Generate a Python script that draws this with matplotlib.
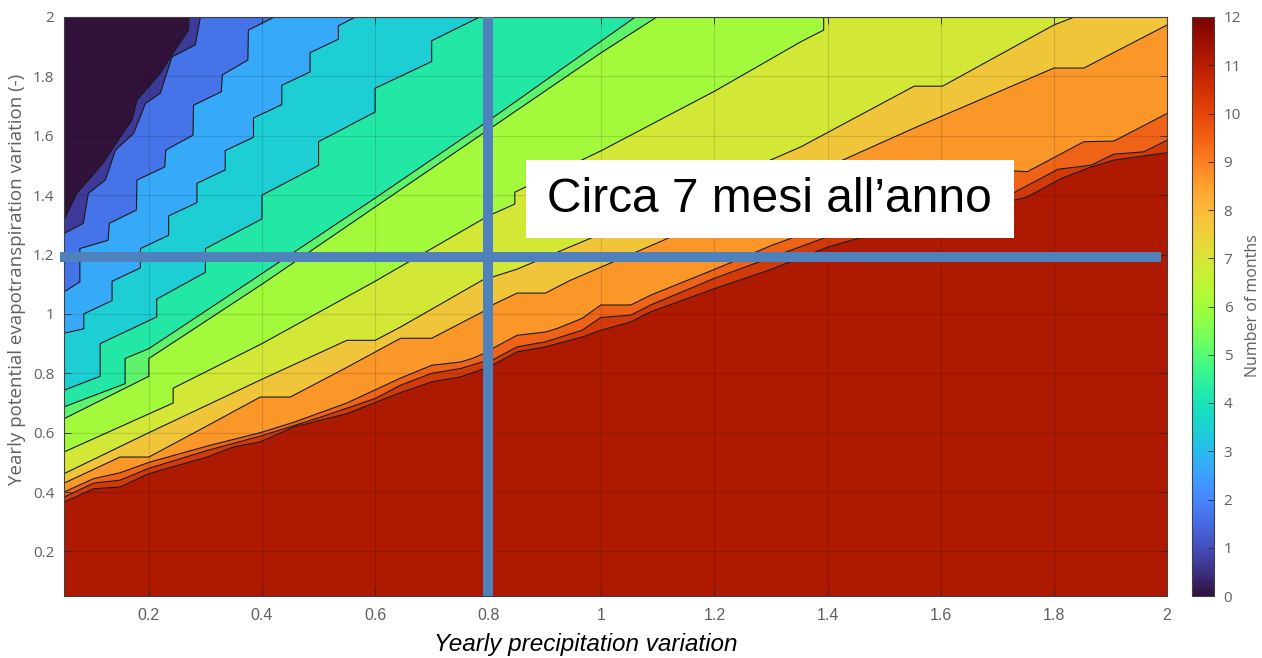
import matplotlib
matplotlib.use("Agg")
import matplotlib.pyplot as plt
from matplotlib import colors as mcolors
from matplotlib.cm import ScalarMappable
from matplotlib.patches import Rectangle

# contour lines, from the bottom (12 months) up to the top-left (0 months)
b1_x = [0.05, 0.102, 0.149, 0.2, 0.303, 0.35, 0.397, 0.456, 0.55, 0.645, 0.70, 0.751, 0.789, 0.807,
        0.851, 0.901, 0.966, 0.999, 1.052, 1.087, 1.2, 1.3, 1.4, 1.5, 1.6, 1.729, 1.753, 1.813, 1.866,
        1.906, 2.0]
b1_y = [0.366, 0.411, 0.417, 0.462, 0.518, 0.552, 0.569, 0.619, 0.664, 0.735, 0.771, 0.788, 0.813, 0.827,
        0.872, 0.889, 0.922, 0.945, 0.973, 1.007, 1.085, 1.15, 1.225, 1.28, 1.335, 1.383, 1.394, 1.456, 1.495,
        1.518, 1.543]
b2_x = [0.05, 0.102, 0.149, 0.2, 0.303, 0.4, 0.5, 0.6, 0.645, 0.70, 0.751, 0.789, 0.807, 0.851, 0.901,
        0.966, 0.999, 1.052, 1.087, 1.2, 1.3, 1.4, 1.5, 1.6, 1.729, 1.807, 1.866, 1.906, 1.959, 2.0]
b2_y = [0.383, 0.43, 0.44, 0.48, 0.54, 0.59, 0.65, 0.715, 0.76, 0.80, 0.816, 0.838, 0.844, 0.889, 0.906,
        0.945, 0.988, 0.996, 1.03, 1.12, 1.19, 1.26, 1.31, 1.36, 1.408, 1.487, 1.501, 1.538, 1.546, 1.585]
b3_x = [0.05, 0.102, 0.149, 0.2, 0.303, 0.397, 0.456, 0.55, 0.645, 0.70, 0.751, 0.772, 0.789, 0.807,
        0.851, 0.901, 0.922, 0.966, 0.999, 1.052, 1.087, 1.2, 1.3, 1.4, 1.5, 1.6, 1.706, 1.753, 1.853,
        1.906, 2.0]
b3_y = [0.40, 0.445, 0.465, 0.50, 0.555, 0.60, 0.635, 0.70, 0.784, 0.827, 0.838, 0.85, 0.864, 0.883,
        0.928, 0.939, 0.951, 0.985, 1.03, 1.03, 1.063, 1.15, 1.23, 1.30, 1.37, 1.43, 1.484, 1.479, 1.58,
        1.582, 1.675]
b4_x = [0.05, 0.149, 0.2, 0.3, 0.397, 0.45, 0.55, 0.645, 0.70, 0.79, 0.807, 0.851, 0.901, 0.946, 1.1,
        1.3, 1.553, 1.80, 1.853, 2.0]
b4_y = [0.43, 0.518, 0.518, 0.62, 0.72, 0.72, 0.82, 0.918, 0.918, 1.007, 1.03, 1.07, 1.07, 1.114, 1.24,
        1.41, 1.626, 1.828, 1.828, 1.973]
b5_x = [0.05, 0.2, 0.4, 0.55, 0.6, 0.645, 0.79, 0.85, 1.0, 1.353, 1.553, 1.603, 1.80, 1.836]
b5_y = [0.462, 0.60, 0.78, 0.911, 0.911, 0.956, 1.114, 1.15, 1.27, 1.563, 1.767, 1.767, 1.973, 2.0]
b6_x = [0.05, 0.243, 0.243, 0.4, 0.6, 0.8, 0.847, 0.847, 1.0, 1.2, 1.353, 1.393, 1.393]
b6_y = [0.535, 0.70, 0.75, 0.90, 1.11, 1.33, 1.37, 1.41, 1.55, 1.75, 1.917, 1.956, 2.0]
b7_x = [0.05, 0.2, 0.2, 0.4, 0.6, 0.8, 1.0, 1.098]
b7_y = [0.647, 0.79, 0.85, 1.10, 1.36, 1.62, 1.88, 2.0]
b8_x = [0.05, 0.158, 0.158, 0.2, 0.356, 0.6, 0.8, 1.06]
b8_y = [0.687, 0.765, 0.85, 0.883, 1.08, 1.39, 1.65, 2.0]
b9_x = [0.05, 0.114, 0.114, 0.214, 0.214, 0.3, 0.3, 0.4, 0.4, 0.5, 0.5, 0.6, 0.6, 0.7, 0.7, 0.785]
b9_y = [0.743, 0.79, 0.90, 0.99, 1.05, 1.14, 1.22, 1.32, 1.40, 1.50, 1.58, 1.68, 1.76, 1.85, 1.92, 2.0]
b10_x = [0.05, 0.085, 0.085, 0.135, 0.135, 0.185, 0.185, 0.235, 0.235, 0.285, 0.285, 0.335, 0.335,
         0.385, 0.385, 0.435, 0.435, 0.485, 0.485, 0.535, 0.535, 0.565]
b10_y = [0.935, 0.95, 1.0, 1.045, 1.11, 1.155, 1.22, 1.265, 1.33, 1.375, 1.44, 1.485, 1.55, 1.595, 1.66,
         1.705, 1.77, 1.815, 1.88, 1.925, 1.97, 2.0]
b11_x = [0.05, 0.078, 0.078, 0.128, 0.13, 0.178, 0.179, 0.228, 0.23, 0.278, 0.279, 0.328, 0.33, 0.375,
         0.376, 0.422]
b11_y = [1.074, 1.108, 1.22, 1.248, 1.305, 1.35, 1.451, 1.495, 1.552, 1.602, 1.703, 1.748, 1.805, 1.855,
         1.956, 2.0]
b12_x = [0.05, 0.084, 0.093, 0.123, 0.141, 0.173, 0.194, 0.22, 0.241, 0.282, 0.291]
b12_y = [1.271, 1.305, 1.406, 1.451, 1.552, 1.608, 1.709, 1.743, 1.866, 1.906, 2.0]
b13_x = [0.05, 0.073, 0.119, 0.14, 0.17, 0.179, 0.22, 0.243, 0.27, 0.271]
b13_y = [1.316, 1.407, 1.508, 1.569, 1.653, 1.72, 1.81, 1.879, 1.956, 2.0]

# fill colour of each band, bottom band first
band_colors = ["#AE1901", "#D23A0A", "#EF6318", "#FB9629", "#F1C53A", "#D3E736", "#A3F93B",
               "#5EF36A", "#23E8A5", "#1DCFD4", "#36AAF9", "#4573E8", "#3E3A9A", "#30123B"]

x_ticks = [0.2, 0.4, 0.6, 0.8, 1.0, 1.2, 1.4, 1.6, 1.8, 2.0]
x_labels = ["0.2", "0.4", "0.6", "0.8", "1", "1.2", "1.4", "1.6", "1.8", "2"]
y_ticks = [0.2, 0.4, 0.6, 0.8, 1.0, 1.2, 1.4, 1.6, 1.8, 2.0]
y_labels = ["0.2", "0.4", "0.6", "0.8", "1", "1.2", "1.4", "1.6", "1.8", "2"]
cbar_ticks = list(range(13))

highlight_x = 0.8
highlight_y = 1.192
note_text = "Circa 7 mesi all\u2019anno"

x_min, x_max = 0.05, 2.0
y_min, y_max = 0.05, 2.0
gray = "#5f5f5f"

fig = plt.figure(figsize=(12.62, 6.58), dpi=100)
ax = fig.add_axes([64 / 1262, 1 - 596 / 658, 1103 / 1262, 579 / 658])
cax = fig.add_axes([1192 / 1262, 1 - 596 / 658, 22 / 1262, 579 / 658])

boundaries = [(b1_x, b1_y), (b2_x, b2_y), (b3_x, b3_y), (b4_x, b4_y), (b5_x, b5_y), (b6_x, b6_y),
              (b7_x, b7_y), (b8_x, b8_y), (b9_x, b9_y), (b10_x, b10_y), (b11_x, b11_y),
              (b12_x, b12_y), (b13_x, b13_y)]
edges = [([x_min, x_max], [y_min, y_min])] + boundaries + [([x_min, x_max], [y_max, y_max])]

# each band is the polygon between two neighbouring contour lines (closed via the top-right corner)
for k, col in enumerate(band_colors):
    lx, ly = edges[k]
    ux, uy = edges[k + 1]
    px = list(lx) + [x_max, x_max] + list(ux)[::-1]
    py = list(ly) + [y_max, y_max] + list(uy)[::-1]
    ax.fill(px, py, facecolor=col, edgecolor=col, lw=0.5, zorder=1)

for bx, by in boundaries:
    ax.plot(bx, by, color="#1a1a1a", lw=0.8, zorder=2)

ax.set_xlim(x_min, x_max)
ax.set_ylim(y_min, y_max)
ax.set_xticks(x_ticks)
ax.set_xticklabels(x_labels, family="Liberation Sans", fontsize=11.5)
ax.set_yticks(y_ticks)
ax.set_yticklabels(y_labels, family="Open Sans", fontsize=11)
ax.tick_params(direction="in", top=True, right=True, length=5, width=0.6, color="#262626",
               labelcolor=gray)
ax.tick_params(axis="x", pad=9)
ax.tick_params(axis="y", pad=7)
ax.grid(True, color="black", alpha=0.13, lw=0.8)
ax.set_axisbelow(False)
for sp in ax.spines.values():
    sp.set_color("#404040")
    sp.set_linewidth(0.8)
    sp.set_zorder(4)

ax.set_xlabel("Yearly precipitation variation", family="Liberation Sans", style="italic",
              fontsize=17.5, color="black")
ax.xaxis.set_label_coords(0.473, -0.064)
ax.set_ylabel("Yearly potential evapotranspiration variation (-)", family="Open Sans", fontsize=13.5,
              color=gray)
ax.yaxis.set_label_coords(-0.034, 0.546)

# blue guide lines and the note box drawn on the chart
ax.plot([highlight_x, highlight_x], [y_min, y_max], color="#4F81BD", lw=7.2, solid_capstyle="butt",
        zorder=5, clip_on=False)
ax.plot([0.043, 1.99], [highlight_y, highlight_y], color="#4F81BD", lw=7.2, solid_capstyle="butt",
        zorder=5, clip_on=False)
ax.add_patch(Rectangle((0.866, 1.255), 0.863, 0.263, facecolor="white", edgecolor="none", zorder=6))
ax.text(1.2975, 1.386, note_text, family="Liberation Sans", fontsize=34.5, ha="center", va="center",
        color="black", zorder=7)

sm = ScalarMappable(norm=mcolors.Normalize(0, 12), cmap="turbo")
cbar = fig.colorbar(sm, cax=cax, ticks=cbar_ticks)
cbar.ax.tick_params(direction="in", length=4, width=0.6, color="#262626", labelcolor=gray,
                    labelsize=11, pad=7)
for lab in cbar.ax.get_yticklabels():
    lab.set_family("Open Sans")
cbar.outline.set_edgecolor("#404040")
cbar.outline.set_linewidth(0.8)
fig.text(1253 / 1262, 1 - 306 / 658, "Number of months", family="Open Sans", fontsize=11.5,
         color=gray, rotation=90, ha="center", va="center")

fig.savefig("out.png", dpi=100)
